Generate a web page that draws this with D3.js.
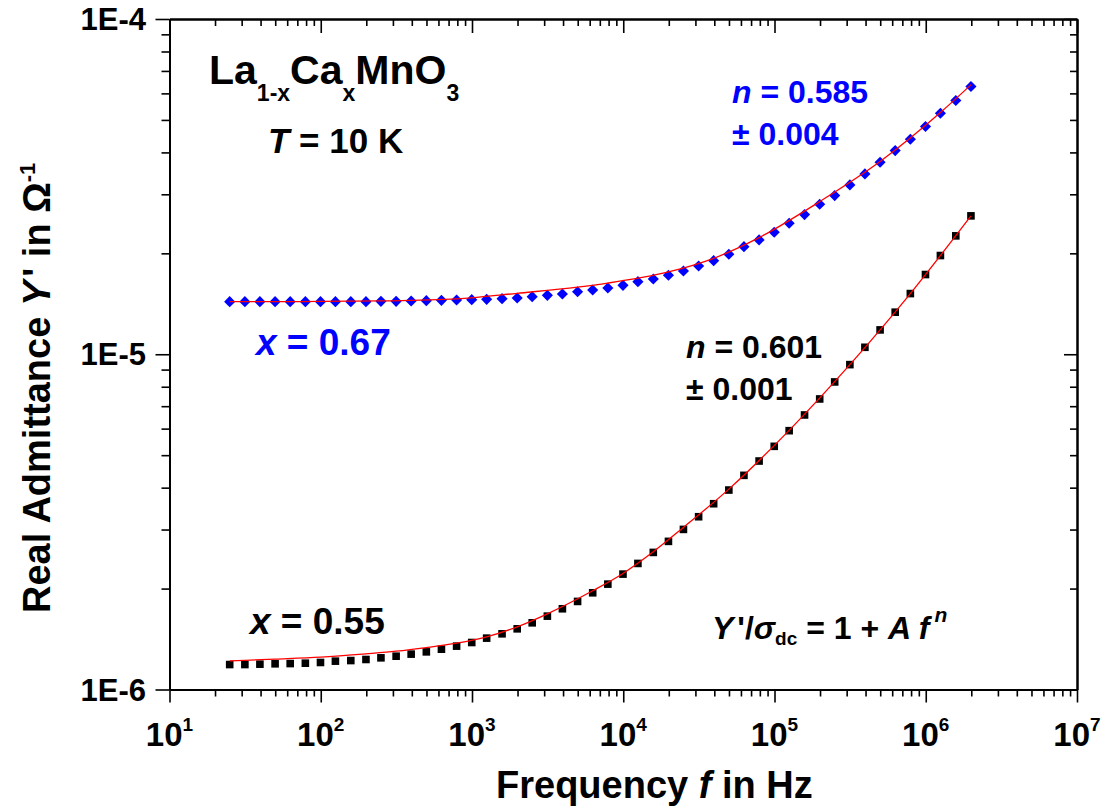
<!DOCTYPE html>
<html><head><meta charset="utf-8">
<script src="https://cdn.jsdelivr.net/npm/d3@7"></script>
<style>
body{margin:0;background:#fff}
text{font-family:"Liberation Sans",Arial,sans-serif;font-weight:bold}
</style>
</head><body><svg id="c" width="1111" height="807"></svg>
<script>
// ---- data ----
const freq = [25, 31.5, 39.6, 49.9, 62.8, 79.1, 99.6, 125, 158, 199,
  250, 315, 396, 499, 628, 791, 996, 1250, 1580, 1990,
  2500, 3150, 3960, 4990, 6280, 7910, 9960, 12500, 15800, 19900,
  25000, 31500, 39600, 49900, 62800, 79100, 99600, 125000, 158000, 199000,
  250000, 315000, 396000, 499000, 628000, 791000, 996000, 1250000, 1580000, 1990000];

const yBlackSquares = [1.187e-6, 1.187e-6, 1.190e-6, 1.193e-6, 1.195e-6, 1.198e-6, 1.204e-6, 1.215e-6, 1.220e-6, 1.229e-6,
  1.243e-6, 1.257e-6, 1.275e-6, 1.295e-6, 1.319e-6, 1.347e-6, 1.381e-6, 1.423e-6, 1.466e-6, 1.517e-6,
  1.581e-6, 1.655e-6, 1.741e-6, 1.831e-6, 1.943e-6, 2.062e-6, 2.209e-6, 2.377e-6, 2.564e-6, 2.766e-6,
  3.003e-6, 3.276e-6, 3.582e-6, 3.935e-6, 4.353e-6, 4.803e-6, 5.313e-6, 5.916e-6, 6.590e-6, 7.356e-6,
  8.268e-6, 9.312e-6, 1.049e-5, 1.182e-5, 1.335e-5, 1.517e-5, 1.729e-5, 1.970e-5, 2.255e-5, 2.587e-5];

const yBlueDiamonds = [1.435e-5, 1.435e-5, 1.435e-5, 1.435e-5, 1.435e-5, 1.435e-5, 1.435e-5, 1.435e-5, 1.435e-5, 1.435e-5,
  1.438e-5, 1.438e-5, 1.442e-5, 1.445e-5, 1.448e-5, 1.452e-5, 1.455e-5, 1.458e-5, 1.465e-5, 1.472e-5,
  1.485e-5, 1.499e-5, 1.512e-5, 1.536e-5, 1.555e-5, 1.576e-5, 1.605e-5, 1.646e-5, 1.677e-5, 1.720e-5,
  1.772e-5, 1.834e-5, 1.902e-5, 1.987e-5, 2.094e-5, 2.193e-5, 2.311e-5, 2.459e-5, 2.610e-5, 2.802e-5,
  2.974e-5, 3.200e-5, 3.451e-5, 3.739e-5, 4.051e-5, 4.380e-5, 4.778e-5, 5.236e-5, 5.713e-5, 6.290e-5];

const fitBlackFreq = [25, 49.9, 99.6, 199, 315, 499, 791, 1250, 1990, 3150, 6280, 9960, 15800, 25000, 49900, 125000, 315000, 791000, 1990000];
const fitBlackY = [1.217e-6, 1.232e-6, 1.249e-6, 1.278e-6, 1.301e-6, 1.334e-6, 1.375e-6, 1.436e-6, 1.538e-6, 1.682e-6, 1.970e-6, 2.219e-6, 2.575e-6, 3.044e-6, 3.96e-6, 5.93e-6, 9.31e-6, 1.517e-5, 2.587e-5];

const fitBlueFreq = [25, 99.6, 250, 791, 1990, 4990, 7910, 19900, 39600, 79100, 199000, 499000, 1250000, 1990000];
const fitBlueY = [1.435e-5, 1.437e-5, 1.442e-5, 1.462e-5, 1.520e-5, 1.585e-5, 1.630e-5, 1.760e-5, 1.933e-5, 2.228e-5, 2.853e-5, 3.757e-5, 5.260e-5, 6.363e-5];

const xDecades = [1e1, 1e2, 1e3, 1e4, 1e5, 1e6, 1e7];
const xTickExponents = ["1", "2", "3", "4", "5", "6", "7"];
const yDecades = [1e-6, 1e-5, 1e-4];
const yTickLabels = ["1E-6", "1E-5", "1E-4"];

// ---- layout ----
const svg = d3.select("#c");
const L = 169.5, R = 1077, T = 19, B = 689.5;
const x = d3.scaleLog().domain([10, 1e7]).range([L, R]);
const y = d3.scaleLog().domain([1e-6, 1e-4]).range([B, T]);

const xMinor = [];
xDecades.slice(0, -1).forEach(d => { for (let k = 2; k <= 9; k++) xMinor.push(d * k); });
const yMinor = [];
yDecades.slice(0, -1).forEach(d => { for (let k = 2; k <= 9; k++) yMinor.push(d * k); });

function styleAxis(g) {
  g.selectAll(".domain").attr("stroke", "#000").attr("stroke-width", 2);
  g.selectAll(".tick line").attr("stroke", "#000").attr("stroke-width", 1.6);
  g.selectAll(".tick text").remove();
}
const MAJ = 13, MIN = 7;
svg.append("g").attr("transform", `translate(0,${B})`)
  .call(d3.axisBottom(x).tickValues(xDecades).tickSize(MAJ).tickSizeOuter(0).tickFormat("")).call(styleAxis);
svg.append("g").attr("transform", `translate(0,${B})`)
  .call(d3.axisBottom(x).tickValues(xMinor).tickSize(MIN).tickSizeOuter(0).tickFormat("")).call(styleAxis);
svg.append("g").attr("transform", `translate(0,${T})`)
  .call(d3.axisTop(x).tickValues(xDecades).tickSize(-MAJ - 1).tickSizeOuter(0).tickFormat("")).call(styleAxis);
svg.append("g").attr("transform", `translate(0,${T})`)
  .call(d3.axisTop(x).tickValues(xMinor).tickSize(-MIN).tickSizeOuter(0).tickFormat("")).call(styleAxis);
svg.append("g").attr("transform", `translate(${L},0)`)
  .call(d3.axisLeft(y).tickValues(yDecades).tickSize(MAJ + 1).tickSizeOuter(0).tickFormat("")).call(styleAxis);
svg.append("g").attr("transform", `translate(${L},0)`)
  .call(d3.axisLeft(y).tickValues(yMinor).tickSize(MIN + 1).tickSizeOuter(0).tickFormat("")).call(styleAxis);
svg.append("g").attr("transform", `translate(${R},0)`)
  .call(d3.axisRight(y).tickValues(yDecades).tickSize(-MAJ).tickSizeOuter(0).tickFormat("")).call(styleAxis);
svg.append("g").attr("transform", `translate(${R},0)`)
  .call(d3.axisRight(y).tickValues(yMinor).tickSize(-MIN).tickSizeOuter(0).tickFormat("")).call(styleAxis);

// tick labels
const xl = svg.append("g");
xDecades.forEach((d, i) => {
  const t = xl.append("text").attr("x", x(d)).attr("y", 746).attr("text-anchor", "middle").attr("font-size", 33);
  t.append("tspan").text("10");
  t.append("tspan").attr("font-size", 19).attr("dy", -15).text(xTickExponents[i]);
});
yDecades.forEach((d, i) => {
  svg.append("text").attr("x", 146).attr("y", y(d) + 11).attr("text-anchor", "end")
    .attr("font-size", 31).text(yTickLabels[i]);
});

// axis titles
const xt = svg.append("text").attr("x", 496).attr("y", 798).attr("font-size", 38);
xt.append("tspan").text("Frequency ");
xt.append("tspan").attr("font-style", "italic").text("f");
xt.append("tspan").text(" in Hz");

const yt = svg.append("text").attr("transform", "translate(50,613) rotate(-90)").attr("font-size", 38);
yt.append("tspan").text("Real Admittance ");
yt.append("tspan").attr("font-style", "italic").text("Y");
yt.append("tspan").attr("dx", 4).text("' in Ω");
yt.append("tspan").attr("font-size", 22).attr("dy", -15).text("-1");

// ---- series ----
const sq = 7.6;
svg.append("g").selectAll("rect").data(freq).join("rect")
  .attr("x", (d) => x(d) - sq / 2).attr("y", (d, i) => y(yBlackSquares[i]) - sq / 2)
  .attr("width", sq).attr("height", sq).attr("fill", "#000");

const diamond = d3.symbol(d3.symbolSquare, 62);
svg.append("g").selectAll("path").data(freq).join("path")
  .attr("d", diamond)
  .attr("transform", (d, i) => `translate(${x(d)},${y(yBlueDiamonds[i])}) rotate(45)`)
  .attr("fill", "#0000ff");

const line = d3.line().x(d => x(d[0])).y(d => y(d[1])).curve(d3.curveMonotoneX);
svg.append("path").attr("d", line(fitBlackFreq.map((f, i) => [f, fitBlackY[i]])))
  .attr("fill", "none").attr("stroke", "#ff0000").attr("stroke-width", 1.3);
svg.append("path").attr("d", line(fitBlueFreq.map((f, i) => [f, fitBlueY[i]])))
  .attr("fill", "none").attr("stroke", "#ff0000").attr("stroke-width", 1.3);

// ---- annotations ----
const f1 = svg.append("text").attr("x", 209).attr("y", 84).attr("font-size", 41);
f1.append("tspan").text("La");
f1.append("tspan").attr("font-size", 23).attr("dy", 17).text("1-x");
f1.append("tspan").attr("dy", -17).text("Ca");
f1.append("tspan").attr("font-size", 23).attr("dy", 17).text("x");
f1.append("tspan").attr("dy", -17).text("MnO");
f1.append("tspan").attr("font-size", 23).attr("dy", 17).text("3");

const tt = svg.append("text").attr("x", 268).attr("y", 153).attr("font-size", 35);
tt.append("tspan").attr("font-style", "italic").text("T");
tt.append("tspan").text(" = 10 K");

function nLabel(xp, yp, color, val, err) {
  const a = svg.append("text").attr("x", xp).attr("y", yp).attr("font-size", 32).attr("fill", color);
  a.append("tspan").attr("font-style", "italic").text("n");
  a.append("tspan").text(" = " + val);
  svg.append("text").attr("x", xp).attr("y", yp + 42).attr("font-size", 32).attr("fill", color).text("± " + err);
}
nLabel(732, 103, "#0000ff", "0.585", "0.004");
nLabel(686, 358, "#000", "0.601", "0.001");

function xLabel(xp, yp, color, val) {
  const a = svg.append("text").attr("x", xp).attr("y", yp).attr("font-size", 37).attr("fill", color);
  a.append("tspan").attr("font-style", "italic").text("x");
  a.append("tspan").text(" = " + val);
}
xLabel(256, 355, "#0000ff", "0.67");
xLabel(250, 634, "#000", "0.55");

const eq = svg.append("text").attr("x", 712).attr("y", 639).attr("font-size", 32);
eq.append("tspan").attr("font-style", "italic").text("Y");
eq.append("tspan").attr("dx", 4).text("'/");
eq.append("tspan").attr("font-style", "italic").text("σ");
eq.append("tspan").attr("font-size", 19).attr("dy", 6).text("dc");
eq.append("tspan").attr("dy", -6).text(" = 1 + ");
eq.append("tspan").attr("font-style", "italic").text("A f");
eq.append("tspan").attr("font-style", "italic").attr("font-size", 21).attr("dx", 5).attr("dy", -17).text("n");
</script>
</body></html>
